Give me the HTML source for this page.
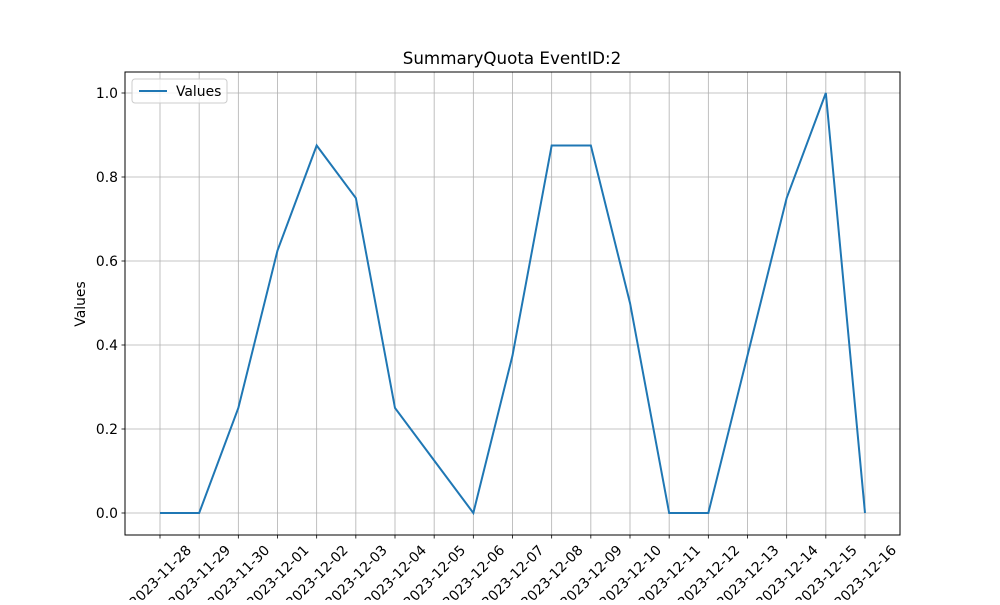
<!DOCTYPE html>
<html><head><meta charset="utf-8"><style>
body{margin:0;background:#fff}
svg text{font-family:"DejaVu Sans","Liberation Sans",sans-serif;fill:#000}
</style></head><body>
<svg id="chart" width="1000" height="600" xmlns="http://www.w3.org/2000/svg">
<rect width="1000" height="600" fill="#fff"/>
<g id="grid"></g>
<g id="ticks"></g>
<path id="line" fill="none" stroke="#1f77b4" stroke-width="2"/>
<rect x="125" y="72" width="775" height="463" fill="none" stroke="#000" stroke-width="1"/>
<text x="512" y="64" font-size="16.7" text-anchor="middle">SummaryQuota EventID:2</text>
<text transform="translate(85,304) rotate(-90)" font-size="13.9" text-anchor="middle">Values</text>
<g>
<rect x="132" y="79" width="95" height="24" rx="3" fill="#fff" fill-opacity="0.8" stroke="#ccc"/>
<line x1="139" y1="91" x2="167" y2="91" stroke="#1f77b4" stroke-width="2"/>
<text x="176" y="96" font-size="13.9">Values</text>
</g>
</svg>
<script>
const categories=["2023-11-28","2023-11-29","2023-11-30","2023-12-01","2023-12-02","2023-12-03","2023-12-04","2023-12-05","2023-12-06","2023-12-07","2023-12-08","2023-12-09","2023-12-10","2023-12-11","2023-12-12","2023-12-13","2023-12-14","2023-12-15","2023-12-16"];
const values=[0,0,0.25,0.625,0.875,0.75,0.25,0.125,0,0.375,0.875,0.875,0.5,0,0,0.375,0.75,1.0,0];
const yTicks=[0,0.2,0.4,0.6,0.8,1.0];
const yTickLabels=["0.0","0.2","0.4","0.6","0.8","1.0"];
const NS="http://www.w3.org/2000/svg";
function xs(i){return 160+i*(865-160)/(categories.length-1);}
function ys(v){return 513-v*420;}
const grid=document.getElementById('grid'),ticks=document.getElementById('ticks');
function mk(tag,attrs,parent){const e=document.createElementNS(NS,tag);for(const k in attrs)e.setAttribute(k,attrs[k]);parent.appendChild(e);return e;}
categories.forEach((c,i)=>{
  const x=xs(i);
  const g=mk('line',{x1:x,x2:x,y1:72,y2:535,stroke:'#b0b0b0','stroke-width':0.8},grid);
  
  
  const t=mk('line',{x1:x,x2:x,y1:535,y2:538.5,stroke:'#000','stroke-width':0.8},ticks);
  
  
  const l=mk('text',{x:0,y:5,'font-size':13.9,'text-anchor':'middle',transform:`translate(${x},576) rotate(-45)`},ticks);
  l.textContent=c;
  
  
});
yTicks.forEach((v,i)=>{
  const y=ys(v);
  const g=mk('line',{x1:125,x2:900,y1:y,y2:y,stroke:'#b0b0b0','stroke-width':0.8},grid);
  
  
  const t=mk('line',{x1:121.5,x2:125,y1:y,y2:y,stroke:'#000','stroke-width':0.8},ticks);
  
  
  const l=mk('text',{x:118,y:y+5,'font-size':13.9,'text-anchor':'end'},ticks);
  l.textContent=yTickLabels[i];
  
  
});
document.getElementById('line').setAttribute('d',values.map((v,i)=>(i?'L':'M')+xs(i)+','+ys(v)).join(' '));
</script>
</body></html>
